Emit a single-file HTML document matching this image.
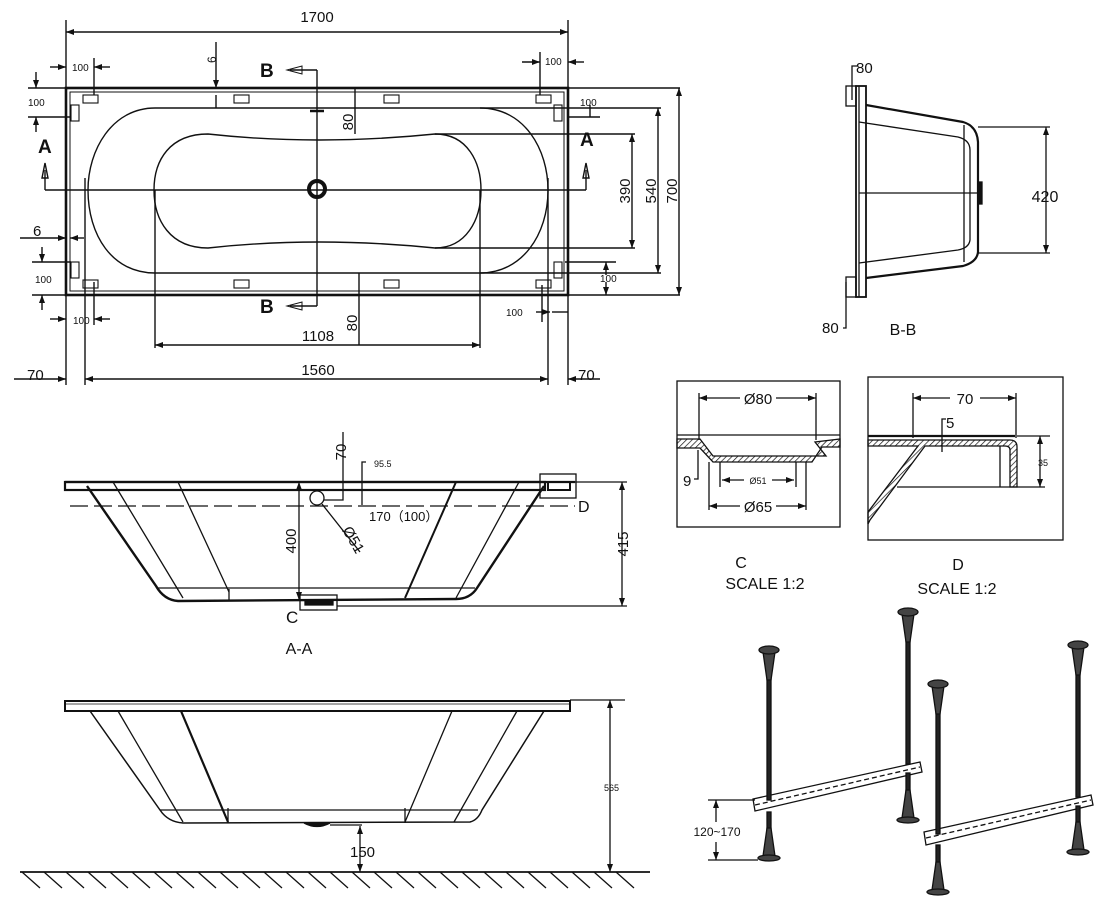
<!DOCTYPE html>
<html><head><meta charset="utf-8"><style>
html,body{margin:0;padding:0;background:#fff;}
svg{display:block;}
text{font-family:"Liberation Sans",Arial,sans-serif;fill:#111;}
</style></head><body>
<svg width="1107" height="909" viewBox="0 0 1107 909" xmlns="http://www.w3.org/2000/svg">
<defs>
<marker id="ar" markerWidth="8" markerHeight="6" refX="8" refY="3" orient="auto-start-reverse" markerUnits="userSpaceOnUse"><path d="M0,0 L8,3 L0,6 z" fill="#111"/></marker>
<pattern id="hat" width="4" height="4" patternUnits="userSpaceOnUse" patternTransform="rotate(45)"><line x1="0" y1="0" x2="0" y2="4" stroke="#111" stroke-width="1.4"/></pattern>
</defs>
<g stroke="#111" fill="none" stroke-width="1.4">
<!-- ============ TOP VIEW ============ -->
<line x1="66" y1="32" x2="568" y2="32" marker-start="url(#ar)" marker-end="url(#ar)"/>
<line x1="66" y1="20" x2="66" y2="385"/>
<line x1="568" y1="20" x2="568" y2="385"/>
<rect x="66" y="88" width="502" height="207" stroke-width="2.6"/>
<rect x="70" y="92" width="494" height="199" stroke-width="1"/>
<line x1="566" y1="88" x2="680" y2="88"/>
<line x1="566" y1="295" x2="680" y2="295"/>
<g stroke-width="1.1">
<rect x="83" y="95" width="15" height="8"/><rect x="234" y="95" width="15" height="8"/><rect x="384" y="95" width="15" height="8"/><rect x="536" y="95" width="15" height="8"/>
<rect x="83" y="280" width="15" height="8"/><rect x="234" y="280" width="15" height="8"/><rect x="384" y="280" width="15" height="8"/><rect x="536" y="280" width="15" height="8"/>
<rect x="71" y="105" width="8" height="16"/><rect x="71" y="262" width="8" height="16"/>
<rect x="554" y="105" width="8" height="16"/><rect x="554" y="262" width="8" height="16"/>
</g>
<path d="M155,108 L480,108 C525,108 548,150 548,190 C548,235 522,273 480,273 L155,273 C112,273 88,235 88,190 C88,150 112,108 155,108 Z"/>
<path d="M208,134 Q317,146 435,134 C468,134 481,163 481,190 C481,220 466,248 435,248 Q317,236 208,248 C170,248 154,220 154,190 C154,160 170,134 208,134 Z"/>
<circle cx="317" cy="189" r="8" stroke-width="4"/>
<line x1="310" y1="111" x2="324" y2="111" stroke-width="2.5"/>
<line x1="45" y1="190" x2="586" y2="190"/>
<line x1="317" y1="70" x2="317" y2="306"/>
<line x1="290" y1="70" x2="317" y2="70"/><path d="M287,70 L302,66 L302,74 Z" stroke-width="1"/>
<line x1="290" y1="306" x2="317" y2="306"/><path d="M287,306 L302,302 L302,310 Z" stroke-width="1"/>
<line x1="45" y1="170" x2="45" y2="190"/><path d="M45,163 L42,178 L48,178 Z"/>
<line x1="586" y1="170" x2="586" y2="190"/><path d="M586,163 L583,178 L589,178 Z"/>
<line x1="435" y1="134" x2="635" y2="134"/><line x1="435" y1="248" x2="635" y2="248"/>
<line x1="632" y1="134" x2="632" y2="248" marker-start="url(#ar)" marker-end="url(#ar)"/>
<line x1="480" y1="108" x2="661" y2="108"/><line x1="480" y1="273" x2="661" y2="273"/>
<line x1="658" y1="108" x2="658" y2="273" marker-start="url(#ar)" marker-end="url(#ar)"/>
<line x1="679" y1="88" x2="679" y2="295" marker-start="url(#ar)" marker-end="url(#ar)"/>
<line x1="155" y1="190" x2="155" y2="348"/><line x1="480" y1="190" x2="480" y2="348"/>
<line x1="155" y1="345" x2="480" y2="345" marker-start="url(#ar)" marker-end="url(#ar)"/>
<line x1="355" y1="88" x2="355" y2="134"/>
<line x1="359" y1="273" x2="359" y2="345"/>
<line x1="85" y1="178" x2="85" y2="385"/><line x1="548" y1="178" x2="548" y2="385"/>
<line x1="14" y1="379" x2="66" y2="379" marker-end="url(#ar)"/>
<line x1="85" y1="379" x2="548" y2="379" marker-start="url(#ar)" marker-end="url(#ar)"/>
<line x1="568" y1="379" x2="600" y2="379" marker-start="url(#ar)"/>
<line x1="216" y1="42" x2="216" y2="88" marker-end="url(#ar)"/><line x1="216" y1="108" x2="216" y2="95" />
<line x1="50" y1="67" x2="66" y2="67" marker-end="url(#ar)"/><line x1="94" y1="58" x2="94" y2="95"/><line x1="110" y1="67" x2="94" y2="67" marker-end="url(#ar)"/>
<line x1="522" y1="62" x2="540" y2="62" marker-end="url(#ar)"/><line x1="540" y1="52" x2="540" y2="95"/><line x1="584" y1="62" x2="568" y2="62" marker-end="url(#ar)"/>
<line x1="50" y1="319" x2="66" y2="319" marker-end="url(#ar)"/><line x1="94" y1="282" x2="94" y2="325"/><line x1="110" y1="319" x2="94" y2="319" marker-end="url(#ar)"/>
<line x1="536" y1="312" x2="550" y2="312" marker-end="url(#ar)"/><line x1="542" y1="285" x2="542" y2="322"/><line x1="568" y1="312" x2="552" y2="312"/>
<line x1="28" y1="88" x2="66" y2="88"/><line x1="36" y1="72" x2="36" y2="88" marker-end="url(#ar)"/>
<line x1="28" y1="117" x2="70" y2="117"/><line x1="36" y1="132" x2="36" y2="117" marker-end="url(#ar)"/>
<line x1="20" y1="238" x2="66" y2="238" marker-end="url(#ar)"/><line x1="84" y1="238" x2="70" y2="238" marker-end="url(#ar)"/>
<line x1="32" y1="262" x2="71" y2="262"/><line x1="42" y1="247" x2="42" y2="262" marker-end="url(#ar)"/>
<line x1="32" y1="295" x2="66" y2="295"/><line x1="42" y1="310" x2="42" y2="295" marker-end="url(#ar)"/>
<line x1="568" y1="117" x2="600" y2="117"/><line x1="590" y1="105" x2="590" y2="117" />
<line x1="565" y1="262" x2="616" y2="262"/><line x1="606" y1="275" x2="606" y2="262" marker-end="url(#ar)"/><line x1="606" y1="282" x2="606" y2="295" marker-end="url(#ar)"/>
</g>
<g font-size="15">
<text x="317" y="22" text-anchor="middle">1700</text>
<text x="72" y="71" font-size="10">100</text><text x="545" y="65" font-size="10">100</text>
<text x="28" y="106" font-size="10">100</text><text x="580" y="106" font-size="10">100</text>
<text x="35" y="283" font-size="10">100</text><text x="600" y="282" font-size="10">100</text>
<text x="73" y="324" font-size="10">100</text><text x="506" y="316" font-size="10">100</text>
<text x="33" y="236">6</text>
<text transform="translate(216,63) rotate(-90)" font-size="12">6</text>
<text x="260" y="77" font-size="19" font-weight="bold">B</text>
<text x="260" y="313" font-size="19" font-weight="bold">B</text>
<text x="38" y="153" font-size="19" font-weight="bold">A</text>
<text x="580" y="146" font-size="19" font-weight="bold">A</text>
<text transform="translate(353,122) rotate(-90)" text-anchor="middle">80</text>
<text transform="translate(357,323) rotate(-90)" text-anchor="middle">80</text>
<text transform="translate(630,191) rotate(-90)" text-anchor="middle">390</text>
<text transform="translate(656,191) rotate(-90)" text-anchor="middle">540</text>
<text transform="translate(677,191) rotate(-90)" text-anchor="middle">700</text>
<text x="318" y="341" text-anchor="middle">1108</text>
<text x="318" y="375" text-anchor="middle">1560</text>
<text x="27" y="380">70</text><text x="578" y="380">70</text>
</g>

<!-- ============ A-A ============ -->
<g stroke="#111" fill="none" stroke-width="1.3">
<rect x="65" y="482" width="480" height="8" stroke-width="2.2"/>
<line x1="65" y1="482" x2="575" y2="482" stroke-width="2.2"/>
<rect x="540" y="474" width="36" height="24"/>
<rect x="548" y="482" width="22" height="8" stroke-width="2"/>
<path d="M87,486 L156,586 Q164,600 178,601 L456,599 Q470,599 477,588 L544,486" stroke-width="2.4"/>
<line x1="113" y1="482" x2="183" y2="598"/>
<line x1="178" y1="482" x2="229" y2="592"/><line x1="229" y1="589" x2="229" y2="600"/>
<line x1="456" y1="482" x2="405" y2="598" stroke-width="2"/>
<line x1="519" y1="482" x2="456" y2="598"/>
<line x1="158" y1="588" x2="475" y2="588"/>
<line x1="70" y1="506" x2="575" y2="506" stroke-dasharray="18,6"/>
<line x1="299" y1="482" x2="299" y2="600" marker-start="url(#ar)" marker-end="url(#ar)"/>
<circle cx="317" cy="498" r="7"/>
<path d="M343,432 L343,500 L324,500"/>
<path d="M366,462 L362,462 L362,505" />
<line x1="322" y1="504" x2="360" y2="552"/>
<line x1="575" y1="482" x2="627" y2="482"/><line x1="337" y1="606" x2="627" y2="606"/>
<line x1="622" y1="482" x2="622" y2="606" marker-start="url(#ar)" marker-end="url(#ar)"/>
<rect x="300" y="595" width="37" height="15"/>
<rect x="305" y="600" width="28" height="5" fill="#111"/>
</g>
<g font-size="15">
<text transform="translate(346,452) rotate(-90)" text-anchor="middle">70</text>
<text x="374" y="467" font-size="9" font-family="Liberation Serif">95.5</text>
<text x="369" y="521" font-size="13" font-family="Liberation Serif,'Noto Serif CJK SC',serif">170（100）</text>
<text transform="translate(342,530) rotate(60)">Ø51</text>
<text transform="translate(296,541) rotate(-90)" text-anchor="middle">400</text>
<text transform="translate(628,544) rotate(-90)" text-anchor="middle">415</text>
<text x="578" y="512" font-size="16">D</text>
<text x="286" y="623" font-size="17">C</text>
<text x="299" y="654" text-anchor="middle" font-size="16">A-A</text>
</g>

<!-- ============ ELEVATION ============ -->
<g stroke="#111" fill="none" stroke-width="1.3">
<rect x="65" y="701" width="505" height="10" stroke-width="2"/>
<line x1="66" y1="704" x2="569" y2="704" stroke-width="0.8"/>
<path d="M90,711 L160,810 Q168,822 183,823 L470,822 Q478,820 482,810 L544,711" stroke-width="1.5"/>
<line x1="118" y1="711" x2="183" y2="822"/>
<line x1="181" y1="711" x2="228" y2="822" stroke-width="2.2"/>
<line x1="228" y1="808" x2="228" y2="823"/>
<line x1="452" y1="711" x2="405" y2="822"/>
<line x1="517" y1="711" x2="454" y2="822"/>
<line x1="405" y1="808" x2="405" y2="823"/>
<line x1="160" y1="810" x2="478" y2="810"/>
<path d="M304,823 Q317,830 330,823" fill="#111"/>
<line x1="330" y1="825" x2="362" y2="825"/>
<line x1="360" y1="826" x2="360" y2="872" marker-start="url(#ar)" marker-end="url(#ar)"/>
<line x1="570" y1="700" x2="625" y2="700"/>
<line x1="610" y1="700" x2="610" y2="872" marker-start="url(#ar)" marker-end="url(#ar)"/>
<line x1="20" y1="872" x2="650" y2="872" stroke-width="1.8"/>
<path d="M22,872l18,16M44,872l18,16M66,872l18,16M88,872l18,16M110,872l18,16M132,872l18,16M154,872l18,16M176,872l18,16M198,872l18,16M220,872l18,16M242,872l18,16M264,872l18,16M286,872l18,16M308,872l18,16M330,872l18,16M352,872l18,16M374,872l18,16M396,872l18,16M418,872l18,16M440,872l18,16M462,872l18,16M484,872l18,16M506,872l18,16M528,872l18,16M550,872l18,16M572,872l18,16M594,872l18,16M616,872l18,16"/>
</g>
<text x="350" y="857" font-size="15">150</text>
<text x="604" y="791" font-size="9">565</text>

<!-- ============ B-B ============ -->
<g stroke="#111" fill="none" stroke-width="1.3">
<rect x="856" y="86" width="10" height="211" stroke-width="1.8"/>
<line x1="859" y1="86" x2="859" y2="297"/>
<rect x="846" y="86" width="10" height="20"/><rect x="846" y="277" width="10" height="20"/>
<path d="M866,105 L963,122 Q977,126 978,142 L978,252 Q977,262 963,266 L866,278" stroke-width="2.2"/>
<path d="M859,122 L958,137 Q970,140 970,150 L970,240 Q969,248 958,250 L859,263"/>
<line x1="964" y1="125" x2="964" y2="262"/>
<line x1="859" y1="193" x2="978" y2="193"/>
<rect x="978" y="182" width="4" height="22" fill="#111"/>
<line x1="978" y1="127" x2="1050" y2="127"/><line x1="978" y1="253" x2="1050" y2="253"/>
<line x1="1046" y1="127" x2="1046" y2="253" marker-start="url(#ar)" marker-end="url(#ar)"/>
<path d="M857,66 L852,66 L852,100"/>
<path d="M843,328 L846,328 L846,282"/>
</g>
<text x="856" y="73" font-size="15">80</text>
<text x="822" y="333" font-size="15">80</text>
<text x="1045" y="202" font-size="16" text-anchor="middle">420</text>
<text x="903" y="335" font-size="16" text-anchor="middle">B-B</text>

<!-- ============ C DETAIL ============ -->
<g stroke="#111" fill="none" stroke-width="1.3">
<rect x="677" y="381" width="163" height="146"/>
<line x1="677" y1="435" x2="840" y2="435"/>
<path d="M677,439 L700,439 L713,456 L826,456 L815,442 L840,439 L840,447 L822,447 L812,462 L713,462 L700,448 L677,448 Z" fill="url(#hat)"/>
<line x1="699" y1="398" x2="816" y2="398" marker-start="url(#ar)" marker-end="url(#ar)"/>
<line x1="699" y1="393" x2="699" y2="440"/><line x1="816" y1="393" x2="816" y2="440"/>
<line x1="720" y1="462" x2="720" y2="487"/><line x1="796" y1="462" x2="796" y2="487"/>
<line x1="722" y1="480" x2="744" y2="480" marker-start="url(#ar)"/><line x1="772" y1="480" x2="794" y2="480" marker-end="url(#ar)"/>
<line x1="709" y1="462" x2="709" y2="510"/><line x1="806" y1="462" x2="806" y2="510"/>
<line x1="709" y1="506" x2="806" y2="506" marker-start="url(#ar)" marker-end="url(#ar)"/>
<path d="M694,479 L698,479 L698,450"/>
</g>
<rect x="740" y="391" width="36" height="14" fill="#fff"/>
<text x="758" y="404" font-size="15" text-anchor="middle">Ø80</text>
<text x="758" y="484" font-size="9" text-anchor="middle">Ø51</text>
<rect x="740" y="499" width="36" height="14" fill="#fff"/>
<text x="758" y="512" font-size="15" text-anchor="middle">Ø65</text>
<text x="683" y="486" font-size="15">9</text>
<text x="741" y="568" font-size="16" text-anchor="middle">C</text>
<text x="765" y="589" font-size="16" text-anchor="middle">SCALE 1:2</text>

<!-- ============ D DETAIL ============ -->
<g stroke="#111" fill="none" stroke-width="1.3">
<rect x="868" y="377" width="195" height="163"/>
<line x1="868" y1="436" x2="1015" y2="436" stroke-width="2.2"/>
<path d="M868,440 L1010,440 Q1017,440 1017,447 L1017,487 L1010,487 L1010,450 Q1010,446 1005,446 L925,446 L870,520 L868,524 L868,512 L918,446 L868,446 Z" fill="url(#hat)"/>
<line x1="1000" y1="446" x2="1000" y2="487"/>
<line x1="897" y1="487" x2="1045" y2="487"/>
<line x1="913" y1="393" x2="913" y2="438"/><line x1="1016" y1="393" x2="1016" y2="438"/>
<line x1="913" y1="398" x2="950" y2="398" marker-start="url(#ar)"/><line x1="980" y1="398" x2="1016" y2="398" marker-end="url(#ar)"/>
<path d="M946,419 L942,419 L942,452"/>
<line x1="1017" y1="436" x2="1050" y2="436"/>
<line x1="1040" y1="436" x2="1040" y2="487" marker-start="url(#ar)" marker-end="url(#ar)"/>
</g>
<text x="965" y="404" font-size="15" text-anchor="middle">70</text>
<text x="946" y="428" font-size="15">5</text>
<text x="1043" y="466" font-size="9" text-anchor="middle">35</text>
<text x="958" y="570" font-size="16" text-anchor="middle">D</text>
<text x="957" y="594" font-size="16" text-anchor="middle">SCALE 1:2</text>

<!-- ============ LEGS ============ -->
<g stroke="#111" stroke-width="1.3">
<g fill="#fff">
<path d="M753,799 L920,762 L922,772 L755,811 Z"/>
<path d="M755,805 L920,767" stroke-dasharray="5,3"/>
<path d="M924,832 L1091,795 L1093,805 L926,845 Z"/>
<path d="M926,838 L1091,800" stroke-dasharray="5,3"/>
</g>
<g fill="#222">
<rect x="767" y="660" width="4" height="140"/><rect x="767" y="812" width="4" height="20"/>
<rect x="906" y="622" width="4" height="142"/><rect x="906" y="773" width="4" height="20"/>
<rect x="936" y="694" width="4" height="140"/><rect x="936" y="845" width="4" height="20"/>
<rect x="1076" y="655" width="4" height="142"/><rect x="1076" y="806" width="4" height="18"/>
</g>
<g fill="#444">
<path d="M763,652 L775,652 L771,680 L767,680 Z"/><ellipse cx="769" cy="650" rx="10" ry="4"/>
<path d="M902,614 L914,614 L910,642 L906,642 Z"/><ellipse cx="908" cy="612" rx="10" ry="4"/>
<path d="M932,686 L944,686 L940,714 L936,714 Z"/><ellipse cx="938" cy="684" rx="10" ry="4"/>
<path d="M1072,647 L1084,647 L1080,675 L1076,675 Z"/><ellipse cx="1078" cy="645" rx="10" ry="4"/>
<path d="M767,828 L771,828 L775,856 L763,856 Z"/><ellipse cx="769" cy="858" rx="11" ry="3"/>
<path d="M906,790 L910,790 L914,818 L902,818 Z"/><ellipse cx="908" cy="820" rx="11" ry="3"/>
<path d="M936,862 L940,862 L944,890 L932,890 Z"/><ellipse cx="938" cy="892" rx="11" ry="3"/>
<path d="M1076,822 L1080,822 L1084,850 L1072,850 Z"/><ellipse cx="1078" cy="852" rx="11" ry="3"/>
</g>
<g fill="none">
<line x1="708" y1="800" x2="755" y2="800"/><line x1="708" y1="860" x2="758" y2="860"/>
<line x1="716" y1="800" x2="716" y2="822" marker-start="url(#ar)"/><line x1="716" y1="842" x2="716" y2="860" marker-end="url(#ar)"/>
</g>
</g>
<text x="717" y="836" font-size="12" text-anchor="middle">120~170</text>
</svg>
</body></html>
